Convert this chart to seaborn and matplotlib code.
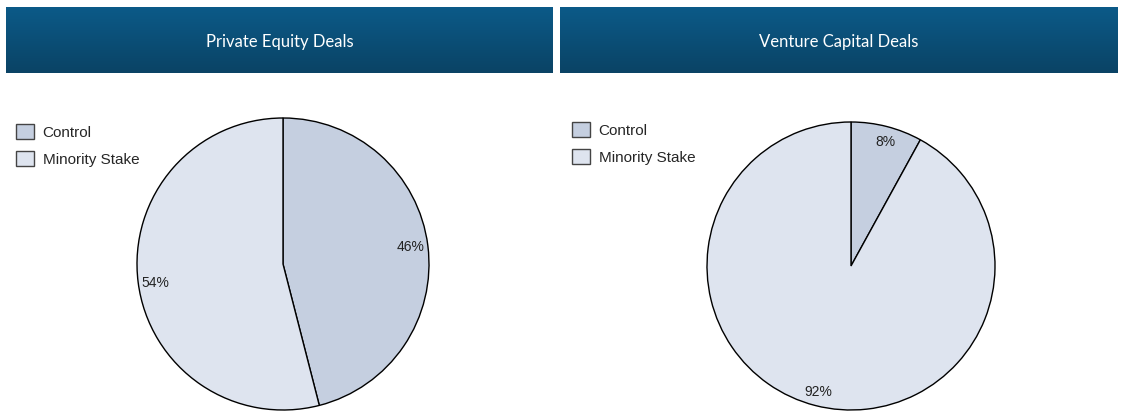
import matplotlib.pyplot as plt
import seaborn as sns
import numpy as np

sns.set_theme(style="white")
plt.rcParams['font.family'] = ['Liberation Sans', 'DejaVu Sans']

categories = ["Control", "Minority Stake"]
pe_shares = [46, 54]
vc_shares = [8, 92]
panel_titles = ["Private Equity Deals", "Venture Capital Deals"]
colors = ["#c5cfe0", "#dee4ef"]

# where the percentage labels sit (unit-circle coords), as in the source layout
pe_label_pos = [(0.873, 0.116), (-0.873, -0.13)]
vc_label_pos = [(0.236, 0.861), (-0.229, -0.875)]

W, H = 1124, 412
fig = plt.figure(figsize=(W / 100, H / 100), dpi=100)


def header(x0, x1, title):
    ax = fig.add_axes([x0 / W, 1 - 73 / H, (x1 - x0) / W, 66 / H])
    grad = np.linspace(0, 1, 100).reshape(-1, 1)
    cmap = sns.blend_palette(["#0c5a88", "#0a4365"], as_cmap=True)
    ax.imshow(grad, aspect="auto", cmap=cmap, extent=[0, 1, 0, 1])
    ax.set_axis_off()
    ax.text(0.5, 0.47, title, color="white", ha="center", va="center",
            fontsize=12, family=["Lato", "DejaVu Sans"], transform=ax.transAxes)


def pie(cx, cy, r, values, label_pos, legend_at):
    ax = fig.add_axes([(cx - r) / W, 1 - (cy + r) / H, 2 * r / W, 2 * r / H])
    wedges, _, autotexts = ax.pie(values, colors=colors, startangle=90, counterclock=False,
                                  autopct="%d%%", pctdistance=0.87,
                                  wedgeprops=dict(edgecolor="black", linewidth=1.0),
                                  textprops=dict(fontsize=10, color="#222222"))
    for t, pos in zip(autotexts, label_pos):
        t.set_position(pos)
    ax.set_xlim(-1, 1)
    ax.set_ylim(-1, 1)
    lx, ly = legend_at
    lg = fig.legend(wedges, categories, loc="upper left",
                    bbox_to_anchor=(lx / W, 1 - ly / H), frameon=False,
                    fontsize=11, handlelength=1.15, handleheight=1.15,
                    handletextpad=0.6, labelspacing=0.75, borderpad=0, borderaxespad=0)
    for p in lg.get_patches():
        p.set_edgecolor("#444444")
        p.set_linewidth(1.0)
    return ax


header(6, 553, panel_titles[0])
header(560, 1118, panel_titles[1])

pie(283, 264, 146, pe_shares, pe_label_pos, (16, 124))
pie(851, 266, 144, vc_shares, vc_label_pos, (572, 122))

fig.savefig("out.png", dpi=100)
